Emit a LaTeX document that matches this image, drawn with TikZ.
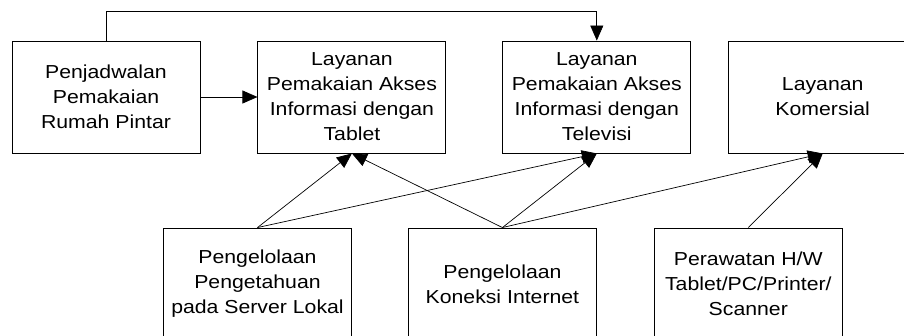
\documentclass[tikz,border=0pt]{standalone}
\usepackage{fontspec}
\setmainfont{Liberation Sans}[FakeStretch=1.13]
\usepackage{tikz}
\usetikzlibrary{arrows.meta,calc,positioning,shapes}
\tikzset{%
	block/.style    = {draw, rectangle, line width=0.9pt, minimum width = 188pt, minimum height = 112pt, inner sep = 0pt, align = center, font = \fontsize{18.8}{25}\selectfont},
	waypoint/.style = {coordinate},
	arrow/.style    = {line width=0.7pt, -{Triangle[length=15pt,width=13pt]}},
}

\begin{document}
\begin{tikzpicture}[x=1pt, y=1pt, node distance = 56pt]
	\clip (0,0) rectangle (904,-335);
	\node[block] (jadwal) at (106,-97) {Penjadwalan\\Pemakaian\\Rumah Pintar};
	\node[block,right=57pt of jadwal] (tablet) {Layanan\\Pemakaian Akses\\Informasi dengan\\Tablet};
	\node[block,right=56pt of tablet] (tv) {Layanan\\Pemakaian Akses\\Informasi dengan\\Televisi};
	\node[block,right=37pt of tv] (komersial) {Layanan\\Komersial};
	\node[block] (server) at (257.5,-284) {Pengelolaan\\Pengetahuan\\pada Server Lokal};
	\node[block,right=56pt of server] (internet) {Pengelolaan\\Koneksi Internet};
	\node[block,right=57pt of internet] (rawat) {Perawatan H/W\\Tablet/PC/Printer/\\Scanner};
	\node[waypoint,above=29pt of jadwal.north] (wp1) {};
	
	\draw[arrow] (jadwal) -- (tablet);
	\draw[arrow] (jadwal.north) -- (wp1) -| (tv.north);
	\draw[arrow] (server.north) -- (tablet.south);
	\draw[arrow] (server.north) -- (tv.south);
	\draw[arrow] (internet.north) -- (tablet.south);
	\draw[arrow] (internet.north) -- (tv.south);
	\draw[arrow] (internet.north) -- (komersial.south);
	\draw[arrow] (rawat.north) -- (komersial.south);
\end{tikzpicture}
\end{document}
